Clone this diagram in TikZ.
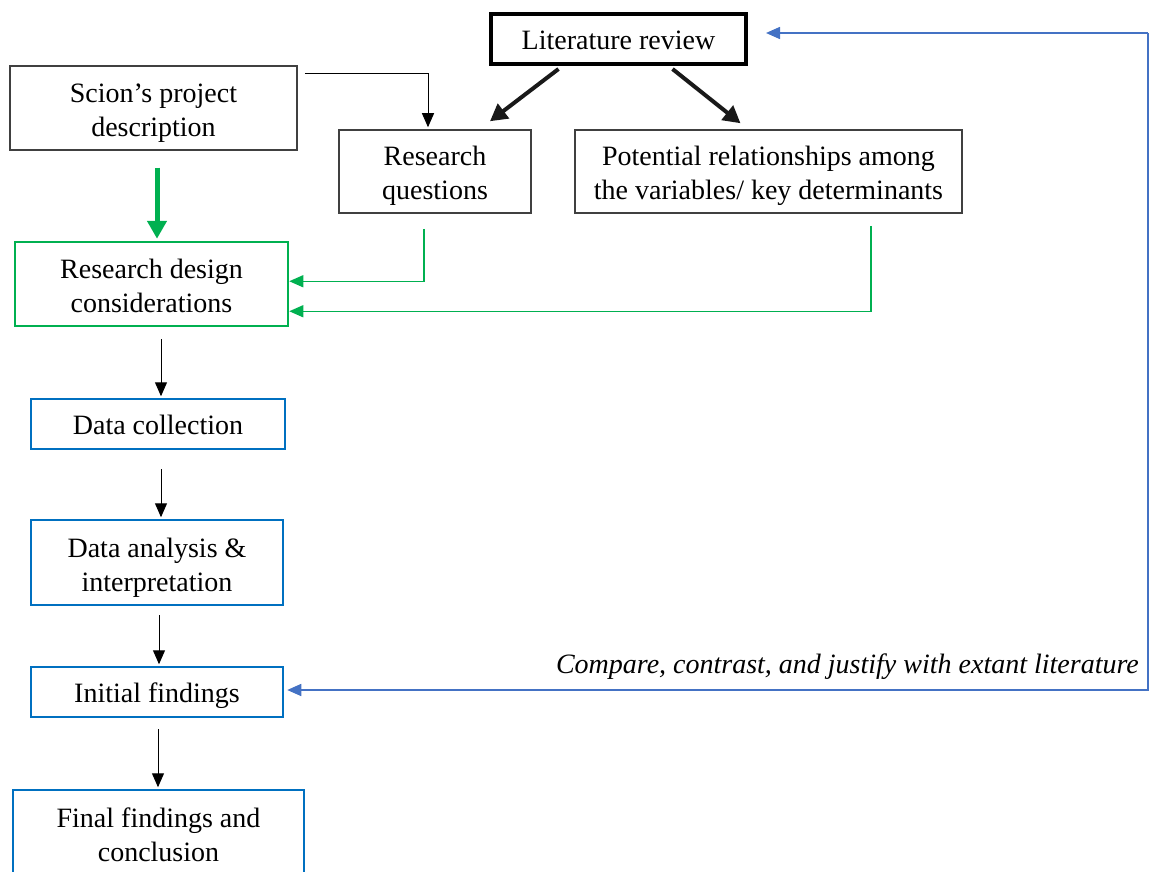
\documentclass[tikz,border=0pt]{standalone}
\usepackage{fontspec}
\setmainfont{Liberation Serif}
\usetikzlibrary{arrows.meta,calc}
\definecolor{wgreen}{HTML}{00B050}
\definecolor{wblue}{HTML}{0070C0}
\definecolor{lblue}{HTML}{4472C4}
\definecolor{dgray}{HTML}{404040}
\begin{document}
\begin{tikzpicture}[x=1pt,y=-1pt,
  box/.style={draw, rectangle, align=center, inner sep=0pt,
    font=\fontsize{28}{34}\selectfont, text height=21pt, text depth=0pt},
  twoline/.style={text height=57pt, text depth=0pt},
  blackbox/.style={box, draw=dgray, line width=1.5pt},
  greenbox/.style={box, draw=wgreen, line width=2.5pt},
  bluebox/.style={box, draw=wblue, line width=2.5pt},
  thinarrow/.style={-{Triangle[length=14pt,width=12pt]}, line width=1pt},
  boldarrow/.style={-{Triangle[length=17pt,width=18pt]}, line width=4pt, draw=black!90},
  greenlink/.style={thinarrow, line width=1.4pt, draw=wgreen, color=wgreen},
  bluelink/.style={-{Triangle[length=14pt,width=12pt]}, line width=1.6pt, draw=lblue, color=lblue}]
\useasboundingbox (0,0) rectangle (1149,872);
\clip (0,0) rectangle (1149,872);

% boxes
\node[box, line width=4pt, minimum width=255pt, minimum height=50pt] (lit) at (618.5,39) {Literature review};
\node[blackbox, twoline, minimum width=287pt, minimum height=84pt] (scion) at (153.5,108) {Scion’s project\\description};
\node[blackbox, twoline, minimum width=192pt, minimum height=83pt] (rq) at (435,171.5) {Research\\questions};
\node[blackbox, twoline, minimum width=387pt, minimum height=83pt] (pot) at (768.5,171.5) {Potential relationships among\\the variables/ key determinants};
\node[greenbox, twoline, minimum width=273pt, minimum height=84pt] (rd) at (151.5,284) {Research design\\considerations};
\node[bluebox, minimum width=254pt, minimum height=50pt] (dc) at (158,424) {Data collection};
\node[bluebox, twoline, minimum width=252pt, minimum height=85pt] (da) at (157,562.5) {Data analysis \&\\interpretation};
\node[bluebox, minimum width=252pt, minimum height=50pt] (if) at (157,692) {Initial findings};
\node[bluebox, twoline, minimum width=291pt, minimum height=86pt] (ff) at (158.5,833) {Final findings and\\conclusion};

% literature review feeding the two top boxes
\draw[boldarrow] ($(lit.south)+(-60,3)$) -- ($(rq.north)+(55,-8)$);
\draw[boldarrow] ($(lit.south)+(54,3)$) -- ($(pot.north)+(-28,-6)$);

% project description into research questions
\draw[thinarrow] ($(scion.north east)+(7,8)$) -| ($(rq.north)+(-7,-2)$);

% project description into research design
\draw[-{Triangle[length=18pt,width=19pt]}, line width=5pt, draw=wgreen, color=wgreen]
  ($(scion.south)+(3.5,17)$) -- ($(rd.north)+(5.5,-2)$);

% research questions and relationships into research design
\coordinate (rqbend) at ($(rq.south)+(-11,67.5)$);
\draw[greenlink] ($(rq.south)+(-11,15)$) -- (rqbend) -- (rqbend -| rd.east);
\coordinate (potbend) at ($(pot.south)+(102.5,97.5)$);
\draw[greenlink] ($(pot.south)+(102.5,12)$) -- (potbend) -- (potbend -| rd.east);

% main sequence
\draw[thinarrow] ($(rd.south)+(9.5,12)$) -- ($(dc.north)+(3,-1.5)$);
\draw[thinarrow] ($(dc.south)+(3,19)$) -- ($(da.north)+(4,-1.5)$);
\draw[thinarrow] ($(da.south)+(2,9)$) -- ($(if.north)+(2,-1.5)$);
\draw[thinarrow] ($(if.south)+(1,11)$) -- ($(ff.north)+(-0.5,-1.5)$);

% feedback loop with the literature
\coordinate (topright) at (1148,33);
\coordinate (botright) at (1148,690);
\draw[bluelink] (topright) -- ($(lit.east)+(18,-6)$);
\draw[bluelink] (topright) -- (botright) -- ($(if.east)+(3,-2)$);
\node[anchor=south east, inner sep=0pt, font=\fontsize{28}{34}\selectfont\itshape] (cmp) at (1139,680)
  {Compare, contrast, and justify with extant literature};
\end{tikzpicture}
\end{document}
